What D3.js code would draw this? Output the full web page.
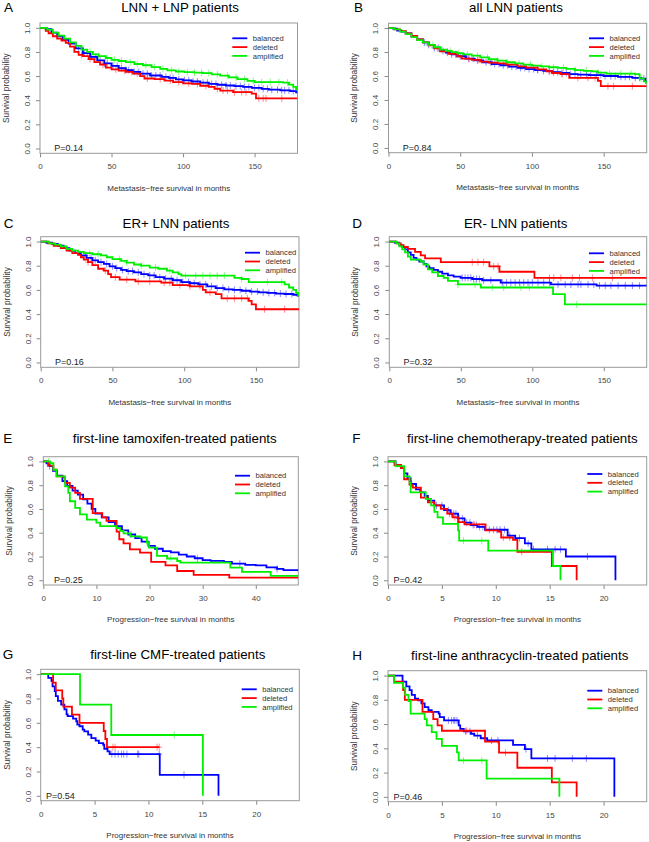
<!DOCTYPE html>
<html><head><meta charset="utf-8">
<script src="https://cdn.jsdelivr.net/npm/d3@7"></script>
<style>
html,body{margin:0;padding:0;background:#fff;}
svg{display:block;font-family:"Liberation Sans",Arial,Helvetica,sans-serif;}
</style></head>
<body>
<svg id="chart" width="649" height="842"></svg>
<script>
// ---------------- DATA ----------------
const groups = ["balanced", "deleted", "amplified"];
const panelIds = ["A","B","C","D","E","F","G","H"];
const titles = ["LNN + LNP patients","all LNN patients","ER+ LNN patients","ER- LNN patients",
  "first-line tamoxifen-treated patients","first-line chemotherapy-treated patients",
  "first-line CMF-treated patients","first-line anthracyclin-treated patients"];
const xLabels = ["Metastasis\u2212free survival in months","Metastasis\u2212free survival in months",
  "Metastasis\u2212free survival in months","Metastasis\u2212free survival in months",
  "Progression\u2212free survival in months","Progression\u2212free survival in months",
  "Progression\u2212free survival in months","Progression\u2212free survival in months"];
const pValues = ["P=0.14","P=0.84","P=0.16","P=0.32","P=0.25","P=0.42","P=0.54","P=0.46"];
const pLabelX = [10,10,10,10,2,0.5,0.5,0.5];
const xMax = [180,180,180,180,48,24,24,24];
const xTicksMetastasis = [0,50,100,150];
const xTicksTamoxifen = [0,10,20,30,40];
const xTicksChemo = [0,5,10,15,20];
const yTicks = [0,0.2,0.4,0.6,0.8,1.0];

// Kaplan-Meier steps: [time, survival after the event]; end = last follow-up time
const A_balanced = [[4,0.99],[8,0.96],[12,0.93],[16,0.9],[20,0.87],[25,0.83],[30,0.79],[35,0.76],[40,0.73],[45,0.705],[50,0.685],[55,0.665],[60,0.65],[65,0.635],[70,0.62],[77,0.605],[85,0.593],[90,0.585],[95,0.573],[100,0.565],[106,0.555],[112,0.545],[118,0.535],[124,0.528],[130,0.522],[136,0.517],[142,0.51],[148,0.503],[155,0.494],[160,0.487],[168,0.482],[175,0.475],[179,0.465]];
const A_deleted = [[4,0.975],[6,0.955],[9,0.93],[12,0.91],[15,0.895],[18,0.875],[21,0.845],[24,0.8],[27,0.775],[30,0.765],[34,0.74],[38,0.715],[42,0.695],[46,0.67],[50,0.655],[55,0.645],[60,0.635],[65,0.62],[70,0.6],[73,0.58],[80,0.575],[87,0.563],[93,0.55],[100,0.54],[106,0.535],[112,0.52],[118,0.51],[122,0.495],[126,0.48],[135,0.467],[148,0.455],[151,0.415]];
const A_amplified = [[5,0.985],[9,0.96],[13,0.935],[17,0.91],[21,0.88],[25,0.85],[29,0.82],[33,0.8],[37,0.78],[41,0.765],[46,0.75],[50,0.735],[55,0.725],[60,0.715],[66,0.7],[72,0.69],[78,0.675],[84,0.66],[89,0.648],[95,0.638],[101,0.632],[108,0.628],[114,0.625],[120,0.615],[126,0.603],[132,0.59],[138,0.575],[145,0.56],[150,0.55],[170,0.545],[174,0.53],[177,0.51],[179,0.49]];
const B_balanced = [[3,0.995],[6,0.98],[9,0.97],[12,0.955],[16,0.93],[20,0.905],[24,0.88],[28,0.86],[32,0.835],[36,0.81],[40,0.795],[44,0.78],[48,0.765],[54,0.745],[60,0.73],[66,0.715],[72,0.7],[78,0.69],[84,0.678],[90,0.668],[96,0.658],[102,0.65],[108,0.643],[114,0.632],[120,0.625],[126,0.615],[132,0.612],[140,0.608],[150,0.6],[160,0.593],[170,0.585],[176,0.578],[179,0.56]];
const B_deleted = [[4,0.99],[8,0.975],[12,0.955],[16,0.935],[20,0.905],[24,0.88],[28,0.855],[32,0.83],[36,0.805],[42,0.785],[48,0.765],[51,0.745],[58,0.735],[64,0.72],[70,0.712],[76,0.705],[82,0.695],[90,0.68],[96,0.67],[104,0.655],[110,0.64],[114,0.625],[120,0.615],[126,0.585],[146,0.56],[148,0.515]];
const B_amplified = [[4,0.99],[8,0.97],[12,0.95],[16,0.925],[20,0.9],[24,0.88],[28,0.86],[32,0.84],[36,0.82],[40,0.81],[44,0.8],[48,0.79],[52,0.78],[58,0.77],[64,0.755],[70,0.74],[76,0.728],[82,0.715],[88,0.705],[94,0.695],[100,0.687],[106,0.68],[112,0.673],[118,0.668],[124,0.66],[130,0.65],[136,0.643],[142,0.638],[146,0.628],[152,0.62],[172,0.615],[175,0.58],[178,0.555],[179.5,0.54]];
const C_balanced = [[4,0.99],[8,0.98],[12,0.965],[16,0.945],[20,0.925],[24,0.905],[28,0.885],[32,0.865],[36,0.845],[40,0.83],[44,0.815],[48,0.795],[52,0.78],[56,0.765],[60,0.755],[65,0.745],[70,0.73],[75,0.72],[80,0.705],[86,0.693],[92,0.68],[98,0.665],[104,0.655],[110,0.645],[116,0.63],[122,0.615],[128,0.605],[134,0.6],[140,0.593],[146,0.586],[152,0.58],[158,0.575],[164,0.57],[170,0.566],[176,0.56],[179,0.553]];
const C_deleted = [[5,0.985],[9,0.965],[14,0.945],[18,0.925],[22,0.905],[26,0.89],[28,0.87],[30,0.85],[33,0.83],[36,0.805],[40,0.775],[44,0.76],[47,0.73],[49,0.705],[55,0.685],[66,0.67],[84,0.66],[92,0.64],[104,0.63],[113,0.6],[115,0.58],[122,0.565],[126,0.53],[145,0.51],[147,0.48],[150,0.44]];
const C_amplified = [[6,0.985],[10,0.975],[14,0.96],[18,0.94],[22,0.925],[26,0.915],[30,0.905],[36,0.895],[42,0.885],[46,0.87],[50,0.855],[56,0.84],[60,0.825],[65,0.81],[70,0.8],[76,0.785],[82,0.775],[88,0.76],[92,0.745],[96,0.73],[98,0.718],[135,0.7],[140,0.69],[145,0.665],[170,0.645],[173,0.62],[176,0.6],[178,0.575],[179.5,0.555]];
const D_balanced = [[4,0.99],[7,0.97],[9,0.955],[11,0.935],[13,0.91],[15,0.89],[17,0.865],[19,0.85],[21,0.835],[24,0.815],[26,0.795],[28,0.78],[31,0.765],[34,0.75],[37,0.735],[41,0.72],[45,0.71],[50,0.7],[58,0.69],[65,0.68],[78,0.66],[113,0.645],[145,0.635]];
const D_deleted = [[5,0.985],[8,0.97],[10,0.955],[13,0.94],[18,0.915],[22,0.885],[25,0.86],[36,0.83],[70,0.795],[77,0.75],[101.5,0.7]];
const D_amplified = [[5,0.985],[7,0.96],[9,0.935],[11,0.91],[13,0.875],[15,0.85],[22,0.835],[24,0.81],[27,0.77],[30,0.745],[34,0.715],[38,0.7],[41,0.675],[48,0.645],[64,0.62],[114.5,0.565],[122.8,0.48]];
const E_balanced = [[0.6,0.985],[1.2,0.96],[1.8,0.92],[2.6,0.88],[3.6,0.835],[4.5,0.795],[5.5,0.755],[6.5,0.72],[7.5,0.68],[8.3,0.645],[9.1,0.6],[9.8,0.56],[11,0.53],[12.3,0.49],[13.5,0.455],[14.8,0.42],[16,0.385],[17.3,0.355],[18.5,0.325],[19.8,0.29],[21,0.265],[22.5,0.245],[24,0.235],[25.5,0.215],[27,0.2],[28.5,0.185],[30,0.17],[31.5,0.163],[34,0.155],[35.5,0.14],[38,0.13],[40,0.125],[42,0.108],[44,0.095],[45.2,0.085]];
const E_deleted = [[0.9,0.965],[1.9,0.93],[2.5,0.875],[3.8,0.866],[4.1,0.82],[5,0.78],[6,0.735],[6.9,0.685],[9.3,0.565],[11.1,0.53],[11.9,0.5],[13.8,0.41],[14.3,0.345],[15.1,0.31],[16.3,0.26],[18.2,0.232],[20.3,0.155],[23,0.126],[25.2,0.078],[28.3,0.045],[35,0.022]];
const E_amplified = [[1.3,0.985],[1.9,0.93],[2.5,0.875],[4.1,0.79],[4.7,0.735],[5,0.665],[6,0.61],[6.9,0.555],[8.2,0.51],[10,0.485],[10.7,0.455],[13.8,0.44],[14.5,0.415],[15.1,0.395],[16.4,0.37],[18.3,0.36],[19.5,0.32],[19.9,0.275],[21.4,0.205],[23.3,0.183],[25.2,0.162],[25.8,0.148],[35.2,0.106],[37.4,0.07],[42.8,0.036]];
const F_balanced = [[0.7,0.97],[1.2,0.955],[1.5,0.9],[1.8,0.86],[2.1,0.81],[2.6,0.765],[3,0.74],[3.4,0.71],[3.7,0.67],[4.3,0.63],[5.2,0.59],[5.8,0.56],[6.5,0.52],[7.1,0.485],[7.7,0.465],[8.3,0.45],[9,0.425],[11.1,0.375],[11.8,0.355],[12.7,0.31],[13.3,0.26],[16.5,0.2],[21.1,0]];
const F_deleted = [[0.6,0.97],[1.2,0.945],[1.5,0.85],[2,0.805],[2.3,0.78],[3.05,0.695],[3.7,0.655],[4.3,0.63],[4.9,0.6],[5.5,0.56],[6,0.53],[6.5,0.49],[7.1,0.47],[9.05,0.42],[10.2,0.41],[10.5,0.36],[11.6,0.34],[12,0.24],[15.2,0.12],[17.5,0]];
const F_amplified = [[0.7,0.96],[1.5,0.875],[2,0.82],[2.1,0.74],[3.5,0.685],[4,0.63],[4.3,0.575],[4.6,0.53],[5.1,0.475],[6.5,0.42],[6.6,0.333],[9.3,0.25],[15.3,0.12],[16,0]];
const G_balanced = [[0.7,0.97],[1,0.945],[1.1,0.9],[1.3,0.86],[1.4,0.82],[1.6,0.78],[1.9,0.75],[2.2,0.71],[2.4,0.67],[2.5,0.655],[3,0.635],[3.3,0.613],[3.4,0.586],[3.6,0.572],[3.9,0.544],[4.05,0.53],[4.4,0.503],[4.7,0.475],[5.1,0.453],[5.4,0.434],[5.8,0.42],[5.9,0.387],[6.2,0.365],[6.4,0.343],[11.05,0.172],[16.5,0]];
const G_deleted = [[1.15,0.93],[1.4,0.867],[2,0.8],[2.1,0.733],[2.9,0.667],[3.6,0.6],[5.85,0.533],[6,0.467],[6.15,0.4]];
const G_amplified = [[3.65,0.75],[6.55,0.5],[15.05,0]];
const H_balanced = [[1.35,0.95],[1.7,0.91],[2.0,0.88],[2.2,0.84],[2.5,0.81],[2.8,0.795],[3.1,0.77],[3.4,0.74],[3.75,0.715],[4.06,0.7],[4.7,0.686],[4.8,0.658],[5.2,0.63],[6.56,0.59],[6.7,0.56],[7.03,0.54],[7.7,0.52],[8,0.505],[8.6,0.483],[9.2,0.465],[11.6,0.428],[12.7,0.394],[13.3,0.317],[21,0]];
const H_deleted = [[0.56,0.95],[1.4,0.88],[1.56,0.8],[3.2,0.7],[4.2,0.64],[4.6,0.59],[5,0.545],[9,0.455],[10.3,0.365],[12,0.24],[15.2,0.12],[17.5,0]];
const H_amplified = [[0.56,0.94],[1.4,0.9],[1.6,0.84],[1.9,0.79],[2.1,0.686],[3.4,0.64],[3.6,0.59],[4.06,0.533],[4.5,0.478],[5,0.42],[6.4,0.367],[6.56,0.3],[9.15,0.15],[15.9,0]];

// last follow-up per curve [balanced, deleted, amplified]
const A_end = [180,180,180], B_end = [180,180,180], C_end = [180,180,180], D_end = [180,180,180];
const E_end = [48,48,48], F_end = [21.1,17.5,16], G_end = [16.5,11,15.05], H_end = [21,17.5,15.9];

// censoring times
const A_cens_balanced = [27,31,33,36,39,42,45,47,51,54,57,60,62,66,69,72,75,78,81,84,88,91,93,97,101,104,107,110,114,117,120,123,127,130,133,137,140,143,146,150,153,156,159,162,166,169,171,174,177];
const A_cens_deleted = [29,35,44,53,59,64,68,75,84,91,97,104,110,116,124,128,131,136,141,144,153,156,158,169];
const A_cens_amplified = [30,35,41,47,52,57,63,68,74,80,86,92,97,103,108,113,118,124,131,137,143,149,155,161,167,173];
const B_cens_balanced = [25,28,32,35,38,41,44,47,50,53,56,59,62,65,68,71,74,77,80,83,86,89,92,95,98,101,104,108,112,115,118,121,124,127,130,134,138,141,145,148,151,155,158,162,165,168,172,175,178];
const B_cens_deleted = [34,41,47,56,63,72,84,93,104,112,121,132,139,144,153,157,170];
const B_cens_amplified = [31,37,43,49,55,62,69,76,83,91,99,107,115,122,130,138,146,154,162,169,176];
const C_cens_balanced = [31,35,38,42,46,50,53,57,61,64,68,72,76,79,83,87,91,95,99,103,107,111,115,119,123,127,131,135,139,143,147,151,155,159,163,167,171,175];
const C_cens_deleted = [33,45,52,60,68,76,86,90,97,104,111,118,130,135,140,144,156,170];
const C_cens_amplified = [34,40,55,60,70,80,90,101,108,113,118,123,128,140,158,168];
const D_cens_balanced = [51,53,55,57,59,61,63,66,71,79,82,85,88,91,94,97,100,104,108,112,118,123,127,132,134,139,143,147,151,155,160,165,170,175];
const D_cens_deleted = [58,62,66,73,76,112,115,120,128,133,142,156];
const D_cens_amplified = [48,60,72,80,92,98,131];
const E_cens_balanced = [1.2,16.5,29,37,44];
const E_cens_deleted = [];
const E_cens_amplified = [1.0,19.5,24];
const F_cens_balanced = [2.2,4.5,5.0,5.6,5.9,6.1,6.3,6.6,6.9,7.3,7.6,7.9,8.2,8.5,8.8,9.4,9.8,10.1,10.4,10.8,11.3,12.2,13.0,13.5,14.8,15.5,16.0,18.5];
const F_cens_deleted = [5.7,6.2,8.0,10.7,11.3,12.4];
const F_cens_amplified = [7.0,8.7];
const G_cens_balanced = [6.6,6.9,7.2,7.5,7.7,8.0,9.0,9.1,11.0,13.3];
const G_cens_deleted = [6.7,6.9,10.8,11.0];
const G_cens_amplified = [12.4];
const H_cens_balanced = [5.6,5.9,6.1,6.2,6.4,7.2,7.6,8.3,9.6,10.2,12.8,14.8,15.5,17.1,18.4];
const H_cens_deleted = [7.3,10.9];
const H_cens_amplified = [7.0,8.7];

// ---------------- LAYOUT / STYLE ----------------
const colors = {balanced:"#0000ff", deleted:"#ff0000", amplified:"#00ee00"};
const curves = {
  A:[A_balanced,A_deleted,A_amplified], B:[B_balanced,B_deleted,B_amplified],
  C:[C_balanced,C_deleted,C_amplified], D:[D_balanced,D_deleted,D_amplified],
  E:[E_balanced,E_deleted,E_amplified], F:[F_balanced,F_deleted,F_amplified],
  G:[G_balanced,G_deleted,G_amplified], H:[H_balanced,H_deleted,H_amplified]};
const ends = {A:A_end,B:B_end,C:C_end,D:D_end,E:E_end,F:F_end,G:G_end,H:H_end};
const censors = {
  A:[A_cens_balanced,A_cens_deleted,A_cens_amplified], B:[B_cens_balanced,B_cens_deleted,B_cens_amplified],
  C:[C_cens_balanced,C_cens_deleted,C_cens_amplified], D:[D_cens_balanced,D_cens_deleted,D_cens_amplified],
  E:[E_cens_balanced,E_cens_deleted,E_cens_amplified], F:[F_cens_balanced,F_cens_deleted,F_cens_amplified],
  G:[G_cens_balanced,G_cens_deleted,G_cens_amplified], H:[H_cens_balanced,H_cens_deleted,H_cens_amplified]};
const xTicksFor = [xTicksMetastasis,xTicksMetastasis,xTicksMetastasis,xTicksMetastasis,xTicksTamoxifen,xTicksChemo,xTicksChemo,xTicksChemo];

const layout = {
  A:{l:40,   t:23,    r:297.5, b:153.3, tx:180,   ty:12,    lx:4,     leg:[232.3,38.3]},
  B:{l:388.5,t:23.3,  r:646.7, b:152.7, tx:516,   ty:12,    lx:354,   leg:[589,38.3]},
  C:{l:40.7, t:236.7, r:299,   b:367.3, tx:176,   ty:228,   lx:3.7,   leg:[245,252.7]},
  D:{l:389.3,t:236.7, r:646.7, b:367.3, tx:515.7, ty:228,   lx:352.3, leg:[589,253.3]},
  E:{l:43.3, t:456.7, r:298.3, b:585,   tx:174.7, ty:443,   lx:3.3,   leg:[235,475.7]},
  F:{l:388,  t:456.7, r:646.7, b:585,   tx:522.3, ty:443,   lx:352.3, leg:[587.3,474]},
  G:{l:40.7, t:669.3, r:299.3, b:800.7, tx:177.8, ty:658.8, lx:2.7,   leg:[241.7,689.3]},
  H:{l:388,  t:670.7, r:646.7, b:801.7, tx:519.7, ty:659.8, lx:352.3, leg:[587.3,690.7]}
};

const svg = d3.select("#chart");
const defs = svg.append("defs");

function survAt(steps, t){
  let s = 1;
  for (const [ti, si] of steps){ if (ti <= t) s = si; else break; }
  return s;
}

panelIds.forEach((id, i) => {
  const L = layout[id];
  const x = d3.scaleLinear().domain([0, xMax[i]]).range([L.l, L.r]);
  const y = d3.scaleLinear().domain([-0.04, 1.04]).range([L.b, L.t]);
  const g = svg.append("g");

  defs.append("clipPath").attr("id","clip"+id)
    .append("rect").attr("x",L.l).attr("y",L.t).attr("width",L.r-L.l).attr("height",L.b-L.t);

  // axes
  const xa = g.append("g").attr("transform",`translate(0,${L.b})`)
    .call(d3.axisBottom(x).tickValues(xTicksFor[i]).tickSize(4).tickPadding(6.5).tickFormat(d3.format("d")));
  xa.select(".domain").remove();
  xa.selectAll("line").attr("stroke","#888");
  xa.selectAll("text").attr("font-size",8).attr("fill","#444").attr("font-family","Liberation Sans, Arial, sans-serif");

  const ya = g.append("g").attr("transform",`translate(${L.l},0)`)
    .call(d3.axisLeft(y).tickValues(yTicks).tickSize(4).tickFormat(d3.format(".1f")));
  ya.select(".domain").remove();
  ya.selectAll("line").attr("stroke","#888");
  ya.selectAll("text")
    .attr("font-size",8).attr("fill","#444").attr("font-family","Liberation Sans, Arial, sans-serif")
    .attr("x",null).attr("dy","0.35em").attr("text-anchor","middle")
    .attr("transform","translate(-13,0) rotate(-90)");

  // box
  g.append("rect").attr("x",L.l).attr("y",L.t).attr("width",L.r-L.l).attr("height",L.b-L.t)
    .attr("fill","none").attr("stroke","#999").attr("stroke-width",1);

  // curves
  const cg = g.append("g").attr("clip-path",`url(#clip${id})`);
  const line = d3.line().x(d=>x(d[0])).y(d=>y(d[1])).curve(d3.curveStepAfter);
  groups.forEach((grp, k) => {
    const steps = curves[id][k];
    const last = steps.length ? steps[steps.length-1][1] : 1;
    const pts = [[0,1], ...steps, [ends[id][k], last]];
    // censor marks
    cg.append("g").selectAll("path").data(censors[id][k]).join("path")
      .attr("d", t => { const cx = x(t), cy = y(survAt(steps,t));
        return `M${cx-3},${cy}H${cx+3}M${cx},${cy-3.5}V${cy+3.5}`; })
      .attr("stroke", colors[grp]).attr("stroke-opacity",0.45).attr("stroke-width",1).attr("fill","none");
  });
  groups.forEach((grp, k) => {
    const steps = curves[id][k];
    const last = steps.length ? steps[steps.length-1][1] : 1;
    const pts = [[0,1], ...steps, [ends[id][k], last]];
    cg.append("path").datum(pts).attr("d", line)
      .attr("fill","none").attr("stroke", colors[grp]).attr("stroke-width",1.8);
  });

  // P value
  g.append("text").attr("x", x(pLabelX[i])).attr("y", y(0)+3)
    .attr("font-size",9).attr("fill","#222").text(pValues[i]);

  // legend
  groups.forEach((grp, k) => {
    const ly = L.leg[1] + k*8.8;
    g.append("line").attr("x1",L.leg[0]).attr("x2",L.leg[0]+15).attr("y1",ly).attr("y2",ly)
      .attr("stroke",colors[grp]).attr("stroke-width",1.8);
    g.append("text").attr("x",L.leg[0]+20.5).attr("y",ly).attr("dy","0.35em")
      .attr("font-size",7.6).attr("fill","#333").text(grp);
  });

  // titles and labels
  g.append("text").attr("x",L.tx).attr("y",L.ty).attr("text-anchor","middle")
    .attr("font-size",13.3).attr("fill","#000").text(titles[i]);
  g.append("text").attr("x",L.lx).attr("y",L.ty).attr("font-size",13.5).attr("fill","#000").text(id);
  g.append("text").attr("x",(L.l+L.r)/2).attr("y",L.b+34.5).attr("dy","0.35em").attr("text-anchor","middle")
    .attr("font-size",8).attr("fill","#333").text(xLabels[i]);
  g.append("text").attr("transform",`translate(${L.l-34},${(L.t+L.b)/2}) rotate(-90)`)
    .attr("dy","0.35em").attr("text-anchor","middle")
    .attr("font-size",8.3).attr("fill","#333").text("Survival probability");
});
</script>
</body></html>
